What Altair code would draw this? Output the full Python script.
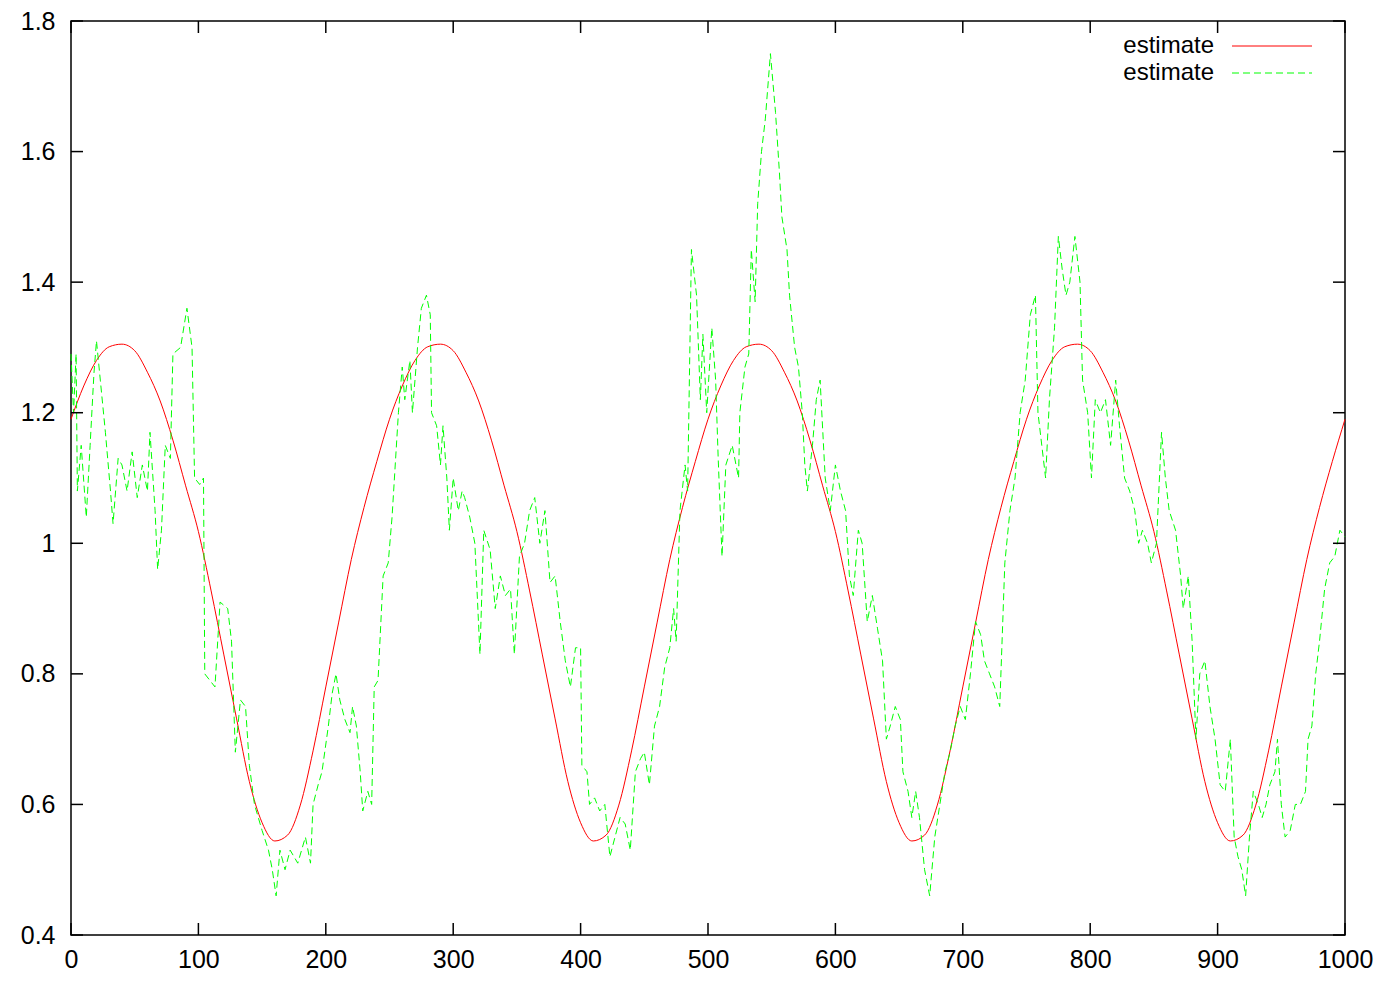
import altair as alt
import pandas as pd

# ---- data ----
series_names = ["estimate", "estimate"]
series_colors = ["#ff0000", "#00ff00"]

x_ticks = [0, 100, 200, 300, 400, 500, 600, 700, 800, 900, 1000]
y_ticks = [0.4, 0.6, 0.8, 1.0, 1.2, 1.4, 1.6, 1.8]

red_x = list(range(0, 1001, 10))
red_y = [
    1.19, 1.241, 1.28, 1.301, 1.305, 1.295, 1.262, 1.218, 1.158, 1.088, 1.018, 0.927, 0.829,
    0.731, 0.635, 0.572, 0.544, 0.553, 0.599, 0.682, 0.78, 0.878, 0.975, 1.055, 1.125,
    1.19, 1.241, 1.28, 1.301, 1.305, 1.295, 1.262, 1.218, 1.158, 1.088, 1.018, 0.927, 0.829,
    0.731, 0.635, 0.572, 0.544, 0.553, 0.599, 0.682, 0.78, 0.878, 0.975, 1.055, 1.125,
    1.19, 1.241, 1.28, 1.301, 1.305, 1.295, 1.262, 1.218, 1.158, 1.088, 1.018, 0.927, 0.829,
    0.731, 0.635, 0.572, 0.544, 0.553, 0.599, 0.682, 0.78, 0.878, 0.975, 1.055, 1.125,
    1.19, 1.241, 1.28, 1.301, 1.305, 1.295, 1.262, 1.218, 1.158, 1.088, 1.018, 0.927, 0.829,
    0.731, 0.635, 0.572, 0.544, 0.553, 0.599, 0.682, 0.78, 0.878, 0.975, 1.055, 1.125,
    1.19,
]

green_x = [
    0, 2, 4, 5, 8, 12, 15, 18, 20, 23, 27, 31, 33, 37, 40, 44, 48, 52, 56, 60,
    62, 66, 68, 71, 74, 78, 80, 86, 91, 95, 97, 101, 104, 105, 109, 113, 117, 123, 126, 129,
    133, 137, 140, 144, 150, 155, 158, 161, 164, 168, 172, 178, 184, 188, 190, 194, 197, 202, 205, 208,
    211, 215, 219, 221, 224, 227, 229, 233, 236, 238, 241, 245, 249, 252, 257, 260, 262, 266, 268, 272,
    275, 279, 282, 283, 287, 290, 292, 295, 297, 300, 304, 307, 309, 313, 317, 321, 324, 329, 333, 337,
    341, 345, 348, 352, 356, 360, 364, 368, 372, 376, 380, 384, 388, 392, 396, 400, 401, 405, 407, 411,
    415, 419, 423, 427, 431, 435, 439, 443, 447, 450, 454, 458, 462, 466, 470, 473, 475, 478, 482, 484,
    487, 491, 494, 496, 499, 503, 506, 508, 511, 514, 519, 524, 525, 529, 532, 534, 537, 539, 542, 545,
    549, 553, 556, 558, 562, 564, 568, 571, 574, 576, 578, 582, 585, 588, 592, 596, 600, 604, 608, 611,
    614, 618, 621, 625, 629, 633, 637, 640, 643, 647, 651, 653, 657, 660, 663, 666, 670, 674, 678, 682,
    686, 690, 694, 698, 702, 706, 710, 714, 717, 721, 725, 729, 733, 737, 741, 745, 749, 753, 757, 759,
    762, 765, 768, 772, 775, 778, 781, 784, 788, 792, 794, 798, 801, 804, 808, 812, 816, 820, 823, 827,
    831, 835, 838, 841, 845, 848, 852, 856, 859, 862, 867, 871, 873, 877, 880, 883, 886, 890, 894, 898,
    902, 906, 910, 913, 916, 919, 922, 925, 928, 932, 935, 938, 941, 945, 947, 950, 953, 957, 961, 965,
    969, 971, 974, 977, 980, 984, 988, 992, 996, 1000,
]
green_y = [
    1.29, 1.2, 1.29, 1.08, 1.15, 1.04, 1.15, 1.26, 1.31, 1.25, 1.17, 1.08, 1.03, 1.13, 1.12, 1.08, 1.14, 1.07, 1.12, 1.08,
    1.17, 1.05, 0.96, 1.02, 1.15, 1.13, 1.29, 1.3, 1.36, 1.3, 1.1, 1.09, 1.1, 0.8, 0.79, 0.78, 0.91, 0.9, 0.85, 0.68,
    0.76, 0.75, 0.66, 0.6, 0.56, 0.53, 0.5, 0.46, 0.53, 0.5, 0.53, 0.51, 0.55, 0.51, 0.6, 0.63, 0.65, 0.72, 0.77, 0.8,
    0.76, 0.73, 0.71, 0.75, 0.72, 0.65, 0.59, 0.62, 0.6, 0.78, 0.79, 0.95, 0.97, 1.04, 1.2, 1.27, 1.22, 1.28, 1.2, 1.3,
    1.36, 1.38, 1.35, 1.2, 1.18, 1.12, 1.18, 1.1, 1.02, 1.1, 1.05, 1.08, 1.07, 1.04, 1.0, 0.83, 1.02, 0.99, 0.9, 0.95,
    0.92, 0.93, 0.83, 0.98, 1.0, 1.05, 1.07, 1.0, 1.05, 0.94, 0.95, 0.88, 0.82, 0.78, 0.84, 0.84, 0.66, 0.65, 0.6, 0.61,
    0.59, 0.6, 0.52, 0.55, 0.58, 0.57, 0.53, 0.65, 0.67, 0.68, 0.63, 0.72, 0.75, 0.81, 0.84, 0.9, 0.85, 1.05, 1.12, 1.08,
    1.45, 1.38, 1.22, 1.32, 1.2, 1.33, 1.25, 1.13, 0.98, 1.12, 1.15, 1.1, 1.2, 1.27, 1.29, 1.45, 1.37, 1.52, 1.6, 1.65,
    1.75, 1.66, 1.57, 1.5, 1.45, 1.38, 1.3, 1.27, 1.2, 1.12, 1.08, 1.15, 1.22, 1.25, 1.1, 1.05, 1.12, 1.08, 1.05, 0.95,
    0.92, 1.02, 1.0, 0.88, 0.92, 0.87, 0.82, 0.7, 0.72, 0.75, 0.73, 0.65, 0.62, 0.58, 0.62, 0.58, 0.5, 0.46, 0.55, 0.6,
    0.65, 0.68, 0.72, 0.75, 0.73, 0.8, 0.88, 0.86, 0.82, 0.8, 0.78, 0.75, 0.97, 1.05, 1.1, 1.2, 1.25, 1.35, 1.38, 1.2,
    1.15, 1.1, 1.22, 1.33, 1.47, 1.42, 1.38, 1.4, 1.47, 1.4, 1.25, 1.2, 1.1, 1.22, 1.2, 1.22, 1.15, 1.25, 1.18, 1.1,
    1.08, 1.05, 1.0, 1.02, 1.0, 0.97, 1.0, 1.17, 1.1, 1.05, 1.02, 0.95, 0.9, 0.95, 0.85, 0.7, 0.8, 0.82, 0.75, 0.7,
    0.63, 0.62, 0.7, 0.55, 0.52, 0.5, 0.46, 0.55, 0.62, 0.6, 0.58, 0.6, 0.63, 0.65, 0.7, 0.6, 0.55, 0.56, 0.6, 0.6,
    0.62, 0.7, 0.72, 0.8, 0.85, 0.93, 0.97, 0.98, 1.02, 1.01,
]

# ---- layout / style ----
W, H = 1274, 914
FONT = "Liberation Sans"
FS = 25
TICK = 12

red_df = pd.DataFrame({"x": red_x, "y": red_y})
green_df = pd.DataFrame({"x": green_x, "y": green_y})
xt_df = pd.DataFrame({"t": x_ticks})
yt_df = pd.DataFrame({"t": y_ticks})

xscale = alt.Scale(domain=[0, 1000], nice=False, zero=False)
yscale = alt.Scale(domain=[0.4, 1.8], nice=False, zero=False)

xaxis = alt.Axis(values=x_ticks, ticks=False, domain=False, grid=False, title=None,
                 labelFont=FONT, labelFontSize=FS, labelColor="black", labelPadding=12,
                 labelFlush=False, labelOverlap=False, format="d")
yaxis = alt.Axis(values=y_ticks, ticks=False, domain=False, grid=False, title=None,
                 labelFont=FONT, labelFontSize=FS, labelColor="black", labelPadding=16,
                 labelOverlap=False, format="~g")

red_line = alt.Chart(red_df).mark_line(
    color=series_colors[0], strokeWidth=1, interpolate="monotone"
).encode(
    x=alt.X("x:Q", scale=xscale, axis=xaxis),
    y=alt.Y("y:Q", scale=yscale, axis=yaxis),
)

green_line = alt.Chart(green_df).mark_line(
    color=series_colors[1], strokeWidth=1, strokeDash=[7, 4]
).encode(
    x=alt.X("x:Q", scale=xscale),
    y=alt.Y("y:Q", scale=yscale),
)

tick_style = dict(color="black", strokeWidth=1.5)
bottom_ticks = alt.Chart(xt_df).mark_rule(**tick_style).encode(
    x=alt.X("t:Q", scale=xscale), y=alt.value(H), y2=alt.value(H - TICK))
top_ticks = alt.Chart(xt_df).mark_rule(**tick_style).encode(
    x=alt.X("t:Q", scale=xscale), y=alt.value(0), y2=alt.value(TICK))
left_ticks = alt.Chart(yt_df).mark_rule(**tick_style).encode(
    y=alt.Y("t:Q", scale=yscale), x=alt.value(0), x2=alt.value(TICK))
right_ticks = alt.Chart(yt_df).mark_rule(**tick_style).encode(
    y=alt.Y("t:Q", scale=yscale), x=alt.value(W), x2=alt.value(W - TICK))

# ---- gnuplot-style key (label left, sample right) ----
key_df = pd.DataFrame({"name": series_names, "i": [0, 1]})
key_text = [
    alt.Chart(key_df.iloc[[i]]).mark_text(
        align="right", baseline="middle", font=FONT, fontSize=24, color="black"
    ).encode(text="name:N", x=alt.value(1143), y=alt.value(25 + 27 * i))
    for i in range(2)
]
key_red = alt.Chart(key_df.iloc[[0]]).mark_rule(color=series_colors[0], strokeWidth=1).encode(
    x=alt.value(1161), x2=alt.value(1241), y=alt.value(25))
key_green = alt.Chart(key_df.iloc[[1]]).mark_rule(
    color=series_colors[1], strokeWidth=1, strokeDash=[7, 4]).encode(
    x=alt.value(1161), x2=alt.value(1241), y=alt.value(52))

chart = alt.layer(
    red_line, green_line, bottom_ticks, top_ticks, left_ticks, right_ticks,
    *key_text, key_red, key_green,
).properties(
    width=W, height=H,
    autosize=alt.AutoSizeParams(type="none"),
    padding={"left": 63, "top": 13, "right": 30, "bottom": 36},
    background="white",
).configure_view(
    stroke="black", strokeWidth=1.5
)

chart.save("out.html", embed_options={"renderer": "svg", "actions": False})
